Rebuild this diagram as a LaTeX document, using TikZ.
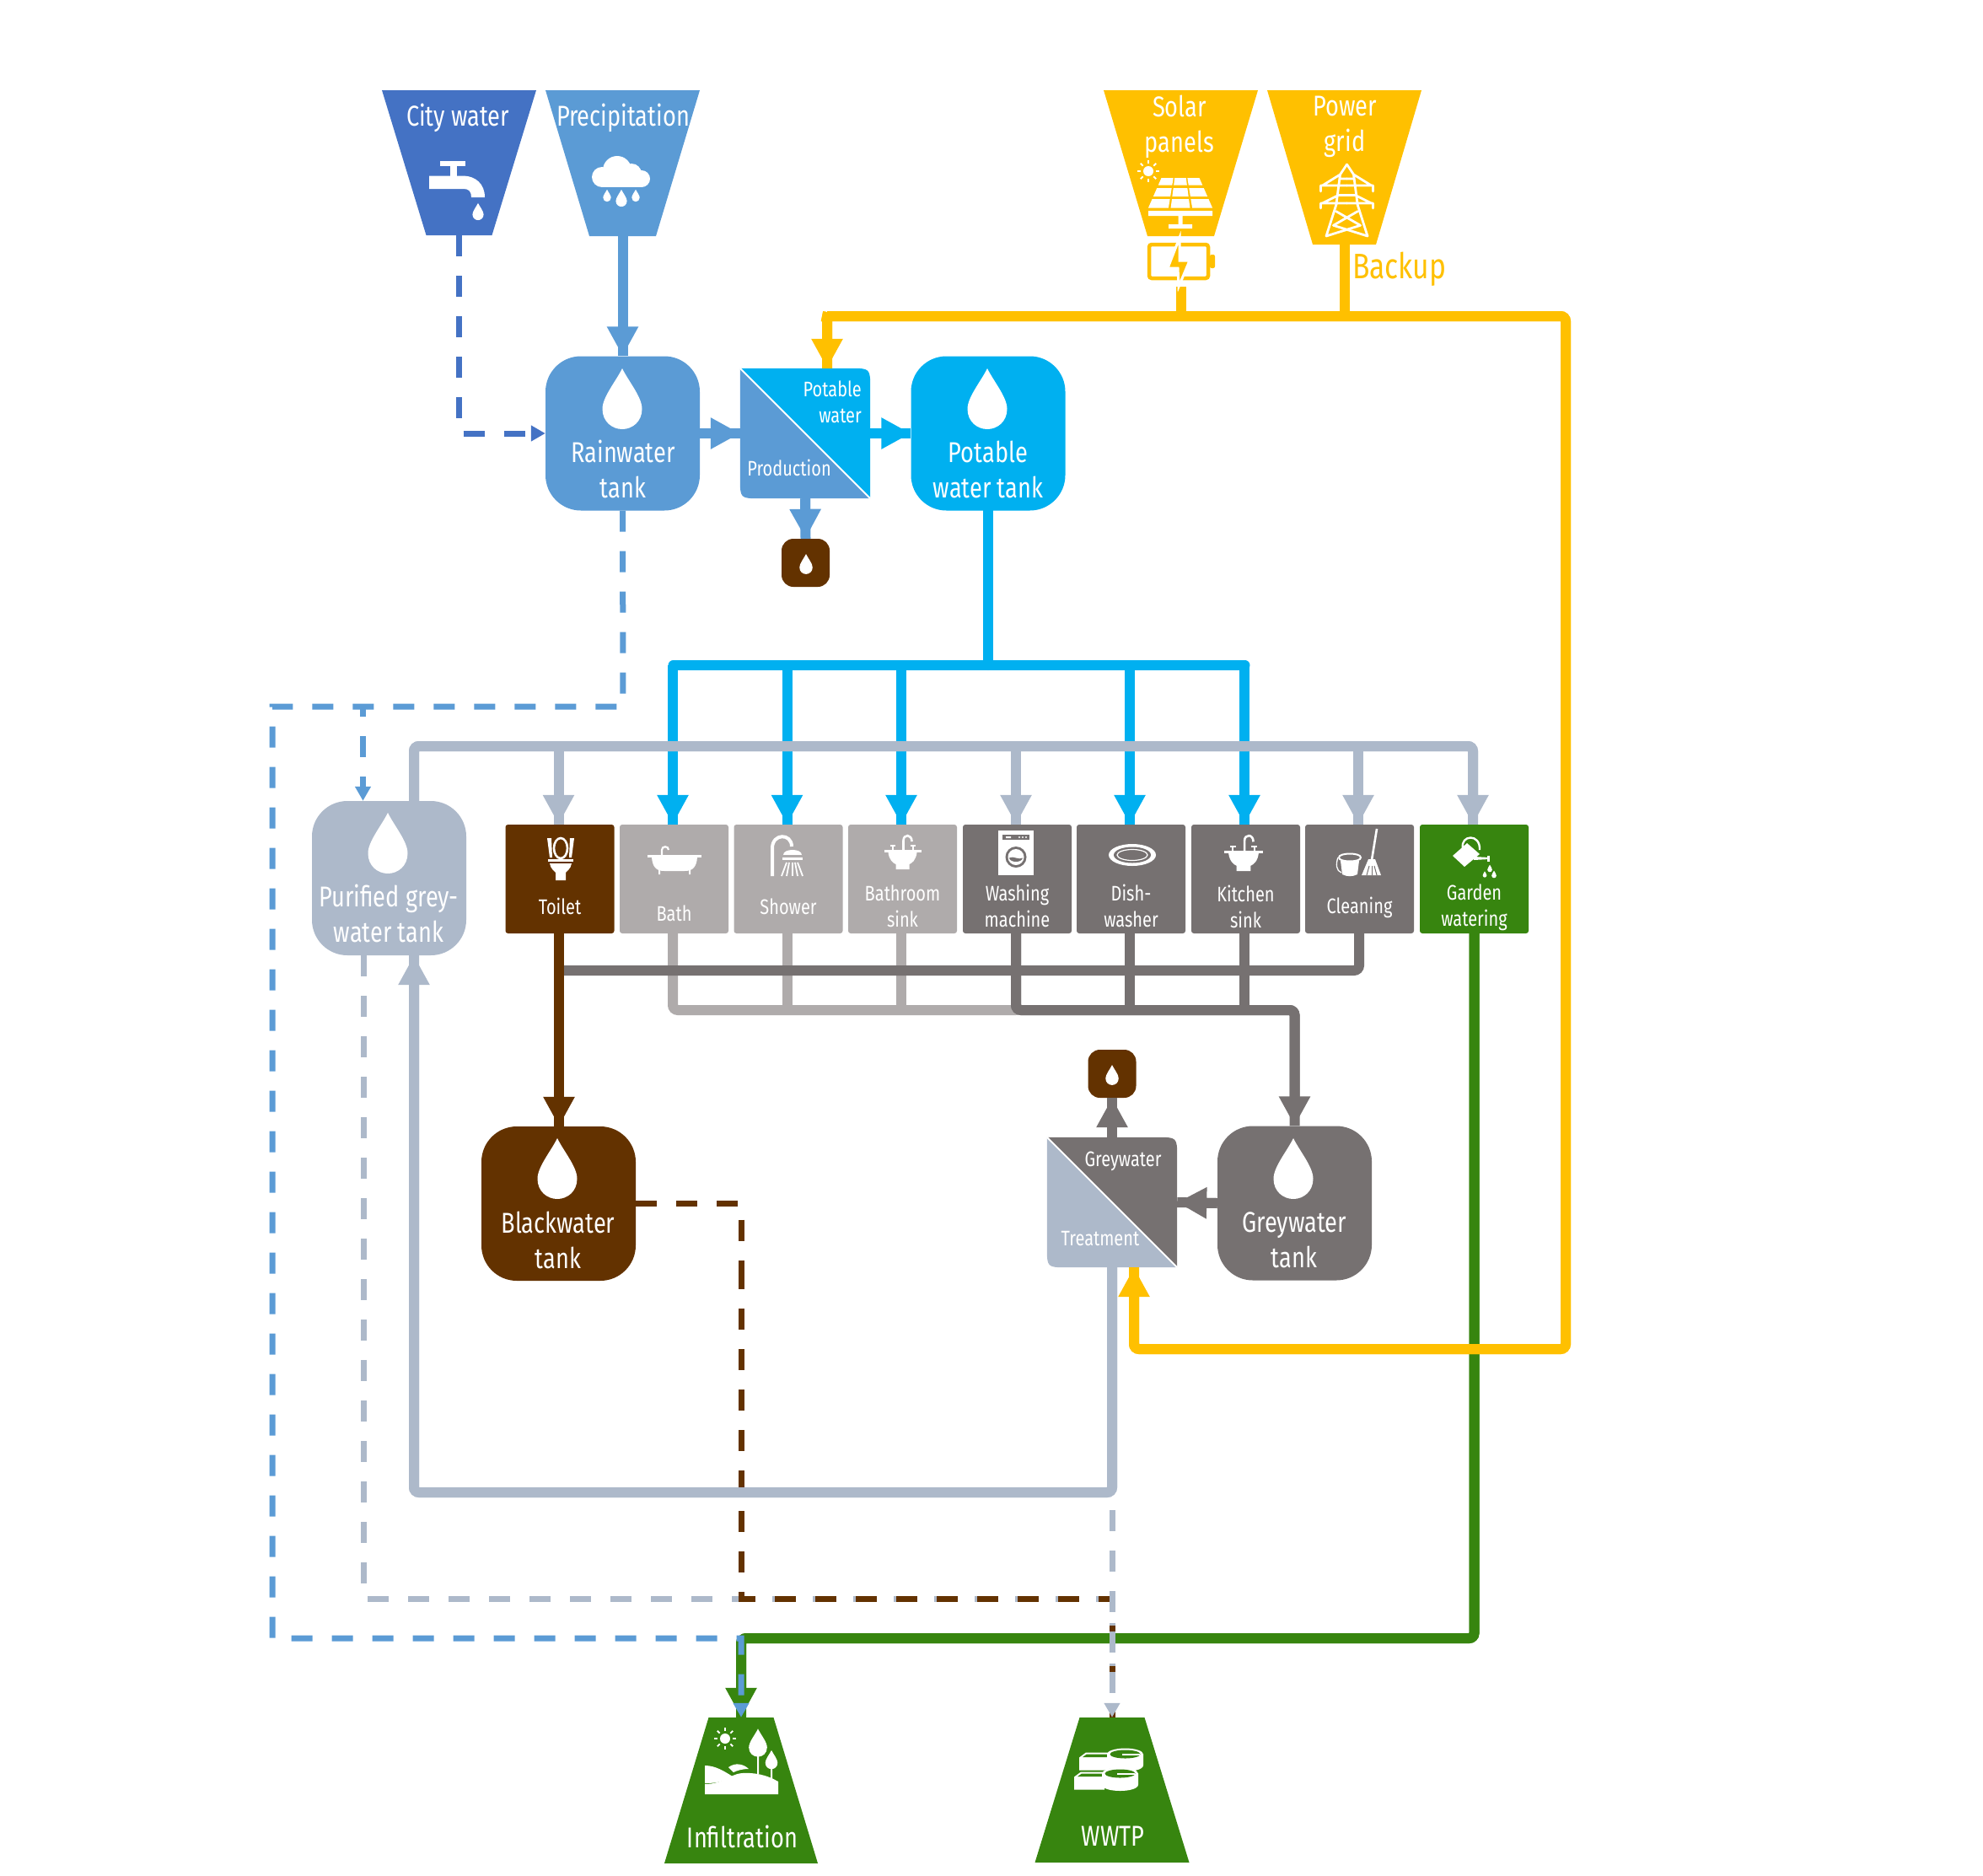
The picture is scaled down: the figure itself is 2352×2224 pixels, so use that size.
\documentclass[tikz,border=0pt]{standalone}
\usepackage{fontspec}
\setmainfont[FakeStretch=0.80]{Fira Sans}
\usetikzlibrary{arrows.meta,calc}

\definecolor{cityc}{HTML}{4472C4}
\definecolor{rainc}{HTML}{5B9BD5}
\definecolor{sunc}{HTML}{FFC000}
\definecolor{potc}{HTML}{00B0F0}
\definecolor{purc}{HTML}{ADB9CA}
\definecolor{darkc}{HTML}{767171}
\definecolor{lightc}{HTML}{AFABAB}
\definecolor{blackc}{HTML}{633200}
\definecolor{gardc}{HTML}{37850F}

\tikzset{
  tank/.style={rectangle, rounded corners=42pt, minimum size=183pt, inner sep=0pt},
  pit/.style={rectangle, rounded corners=14pt, minimum size=57pt, inner sep=0pt, fill=blackc},
  user/.style={rectangle, rounded corners=3pt, minimum width=129pt, minimum height=129pt, inner sep=0pt},
  big/.style={text=white, align=center, inner sep=0pt, font=\fontsize{34}{42}\selectfont},
  small/.style={text=white, align=center, inner sep=0pt, font=\fontsize{25}{31}\selectfont},
  pipe/.style={line width=12pt, rounded corners=6pt, line cap=round},
  flow/.style={line width=12pt, rounded corners=6pt, -{Triangle[length=35pt,width=35pt]}, postaction={draw,-}},
  dots/.style={line width=7pt, dash pattern=on 25pt off 23pt},
  dotflow/.style={dots, -{Triangle[length=17pt,width=18pt]}},
  drop/.pic={\fill[pic actions] (0,-36) .. controls (-8,-20) and (-23.5,-2) .. (-23.5,12)
    .. controls (-23.5,27) and (-12,36) .. (0,36) .. controls (12,36) and (23.5,27) .. (23.5,12)
    .. controls (23.5,-2) and (8,-20) .. (0,-36) -- cycle;},
  sun/.pic={\fill[white] (0,0) circle (6);
    \foreach \a in {0,45,...,315} \draw[white,line width=1.8pt] (\a:9) -- (\a:13);},
  tap/.pic={\fill[white] (-20,-33) rectangle (10,-27);
    \fill[white] (-8,-27) rectangle (0,-15);
    \fill[white] (-33,-15.5) -- (8,-15.5) .. controls (22,-15) and (33,-6) .. (33,10) -- (17,10)
    .. controls (17,3) and (14,0) .. (8,0) -- (-33,0) -- cycle;
    \pic[white,scale=.28] at (25,27) {drop};},
  cloud/.pic={\foreach \x/\y/\r in {-23/-5/12,-5/-13/17,12/-9/12,24/-3/10} \fill[white] (\x,\y) circle (\r);
    \fill[white] (-23,-8) rectangle (24,7);
    \pic[white,scale=.2] at (-17,17) {drop}; \pic[white,scale=.28] at (0,20) {drop}; \pic[white,scale=.2] at (17,17) {drop};},
  panel/.pic={\foreach \a/\b in {-30/-21.4,-18/-8,-5/5.5} \foreach \l/\r in {-1/-.37,-.3/.3,.37/1}
      \fill[white] ({\l*(35.6+.437*\a)},\a) -- ({\r*(35.6+.437*\a)},\a) -- ({\r*(35.6+.437*\b)},\b) -- ({\l*(35.6+.437*\b)},\b) -- cycle;
    \fill[white] (-38,9) rectangle (38,15) (-2.5,15) rectangle (2.5,25) (-14,25) rectangle (14,30);},
  pylon/.pic={\foreach \s in {-1,1} {\draw[white,line width=2.8pt,line join=round,line cap=round]
      (0,-43) -- (\s*8,-31) -- (\s*12.7,5) -- (\s*24.5,42) -- (\s*-16,29.3) -- (\s*12.7,12.7)
      (\s*8,-31) -- (\s*29,-18) (\s*31,-11) -- (\s*31,-18) -- (0,-18)
      (\s*10,-6.5) -- (\s*29,3) (\s*31,9) -- (\s*31,3) -- (0,3)
      (\s*7,-26) -- (0,-26) (\s*10,-6.5) -- (0,-6.5);}},
  loo/.pic={\fill[white] (-13,5) -- (13,5) .. controls (12,12) and (7,14) .. (6,16) -- (6,25) -- (-6,25) -- (-6,16) .. controls (-7,14) and (-12,12) .. (-13,5) -- cycle;
    \fill[white] (-15,0) rectangle (15,3);
    \draw[white,line width=2.6pt] (0,-13) ellipse (8 and 12);
    \fill[white] (-16,-25) -- (-11,-25) -- (-10,-2) -- (-13,-2) -- cycle;
    \fill[white] (16,-25) -- (11,-25) -- (10,-2) -- (13,-2) -- cycle;},
  tub/.pic={\fill[white] (-32,-6) rectangle (32,-3);
    \fill[white] (-27,-3) -- (27,-3) .. controls (26,8) and (22,13) .. (12,13) -- (-12,13) .. controls (-22,13) and (-26,8) .. (-27,-3) -- cycle;
    \fill[white] (-19,12) rectangle (-17,17) (17,12) rectangle (19,17);
    \draw[white,line width=2.2pt] (-15,-6) -- (-15,-12) .. controls (-15,-17) and (-7,-17) .. (-7,-12);},
  rose/.pic={\draw[white,line width=4pt] (-19,23) -- (-19,-10) .. controls (-19,-28) and (4,-28) .. (4,-12);
    \fill[white] (-6,-2) .. controls (-6,-10) and (16,-10) .. (16,-2) -- cycle;
    \fill[white] (-7,1) rectangle (17,4);
    \foreach \p/\q in {-2/-8,1/-2,5/5,8/11,11/17} \draw[white,line width=1.8pt] (\p,7) -- (\q,23);},
  basin/.pic={\fill[white] (-22,-3) rectangle (22,0);
    \fill[white] (-17,0) -- (17,0) .. controls (16,9) and (11,13) .. (8,14) -- (8,20) -- (-8,20) -- (-8,14) .. controls (-11,13) and (-16,9) .. (-17,0) -- cycle;
    \draw[white,line width=2.6pt] (1,-3) -- (1,-14) .. controls (1,-22) and (11,-22) .. (11,-13);
    \draw[white,line width=2pt] (-12,-3) -- (-12,-8) (-15,-8) -- (-9,-8) (12,-3) -- (12,-8) (9,-8) -- (15,-8);},
  washer/.pic={\fill[white] (-21,-26.5) rectangle (21,26.5);
    \fill[darkc] (-16,-21.5) rectangle (16,-15.5);
    \fill[darkc] (0,5) circle (12.5);
    \fill[white] (0,5) circle (9.5);
    \fill[darkc] (-8,6) .. controls (-3,3) and (3,9) .. (8,6) .. controls (7,12) and (-7,12) .. (-8,6) -- cycle;
    \fill[white] (-12,-19.5) rectangle (-6,-17.5) (4,-18.5) circle (1.2) (8,-18.5) circle (1.2) (12,-18.5) circle (1.2);},
  plate/.pic={\fill[white] (0,0) ellipse (28 and 13);
    \fill[darkc] (0,0) ellipse (22 and 9.5);
    \draw[white,line width=1.2pt] (0,0) ellipse (18 and 6.5);},
  mop/.pic={\draw[white,line width=2pt] (-24,6) .. controls (-24,0) and (2,0) .. (2,6) .. controls (2,12) and (-24,12) .. (-24,6);
    \fill[white] (-22,10) -- (0,10) -- (-2,26) .. controls (-8,29) and (-14,29) .. (-20,26) -- cycle;
    \draw[white,line width=1.3pt] (-25,6) .. controls (-28,14) and (-27,22) .. (-21,24);
    \draw[white,line width=2.6pt] (21,-28) -- (15,9);
    \fill[white] (11,8) -- (19,8) -- (26,27) -- (3,27) -- cycle;
    \foreach \x in {9,15,21} \draw[darkc,line width=1pt] (\x,27) -- (\x+.5*15-.5*\x,16);},
  can/.pic={\fill[white] (-25,-1) -- (-8,-16) -- (7,-3) -- (-11,12) -- cycle;
    \fill[white] (0,4) -- (18,3) -- (18,1) -- (0,0) -- cycle;
    \fill[white] (16,-1) rectangle (19,6);
    \draw[white,line width=2.4pt] (-13,-10) .. controls (-16,-26) and (8,-28) .. (7,-8);
    \pic[white,scale=.12] at (19,14) {drop}; \pic[white,scale=.1] at (13,21) {drop}; \pic[white,scale=.12] at (24,21) {drop};},
  field/.pic={\fill[white] (-44,27) .. controls (-22,27) and (-14,15) .. (0,14) .. controls (14,13) and (30,16) .. (43,24) -- (43,39) -- (-44,39) -- cycle;
    \fill[white] (-44,5) .. controls (-32,5) and (-22,11) .. (-11,18) .. controls (-22,24) and (-30,26) .. (-44,26) -- cycle;
    \fill[white] (-16,7) .. controls (-8,1) and (2,3) .. (8,9) .. controls (0,9) and (-6,11) .. (-10,13) -- cycle;
    \fill[white] (18,-10) rectangle (20,15) (34,0) rectangle (36,21);
    \pic[white,scale=.46] at (19,-22) {drop}; \pic[white,scale=.31] at (35,-2) {drop};},
  works/.pic={\fill[white] (-36,-5) -- (-28,-11) -- (0,-11) -- (0,10) -- (-36,10) -- cycle;
    \fill[gardc] (-32,-5.5) -- (-27,-9) -- (-3,-9) -- (-3,-5.5) -- cycle;
    \fill[white] (-3,-9) -- (-3,4) .. controls (-3,14) and (40,14) .. (40,4) -- (40,-9) -- cycle;
    \fill[white] (18.5,-9) ellipse (21.5 and 7);
    \fill[gardc] (18.5,-9) ellipse (18 and 5);
    \fill[white] (15,-10) rectangle (36,-8);},
}

% name, centre x, centre y, half top, half bottom, half height, colour
\newcommand{\funnel}[7]{%
  \fill[#7] ({#2-#4},{#3-#6}) -- ({#2+#4},{#3-#6}) -- ({#2+#5},{#3+#6}) -- ({#2-#5},{#3+#6}) -- cycle;
  \node[minimum width=2*#4 pt, minimum height=2*#6 pt, inner sep=0pt] (#1) at (#2,#3) {};
}
\newcommand{\splitbox}[3]{%
  \fill[#3] (#1.north west) -- ($(#1.south west)+(0,-24)$) .. controls (#1.south west) .. ($(#1.south west)+(24,0)$) -- (#1.south east) -- cycle;
  \fill[#2] (#1.north west) -- ($(#1.north east)+(-24,0)$) .. controls (#1.north east) .. ($(#1.north east)+(0,24)$) -- (#1.south east) -- cycle;
  \draw[white,line width=2pt] (#1.north west) -- (#1.south east);
}

\begin{document}
\begin{tikzpicture}[x=1pt,y=-1pt]
  \useasboundingbox (0,0) rectangle (2352,2224);

  % sources and sinks
  \funnel{city}{544.5}{193}{91.5}{39}{86}{cityc}
  \funnel{prec}{738.5}{193.5}{91.5}{39.5}{86.5}{rainc}
  \funnel{sol}{1400.5}{193.5}{91.5}{39.5}{86.5}{sunc}
  \funnel{grid}{1594.5}{198.5}{91.5}{37.5}{91.5}{sunc}
  \funnel{inf}{879}{2123.5}{38.5}{91}{86.5}{gardc}
  \funnel{wwtp}{1319}{2123}{38.5}{91.5}{86}{gardc}
  \node[big] (cityt) at (543,139.5) {City water};
  \node[big] (prect) at (739,139.5) {Precipitation};
  \node[big] (solt) at (1399,150) {Solar\\panels};
  \node[big] (gridt) at (1595,150.5) {Power\\grid};
  \node[big] (inft) at (880.5,2178) {Infiltration};
  \node[big] (wwtpt) at (1320,2178) {WWTP};
  \node[big, text=sunc, anchor=west, font=\fontsize{42}{42}\selectfont] (backup) at (1604,319) {Backup};

  % tanks
  \node[tank, fill=rainc] (rain) at (738.5,514) {};
  \node[tank, fill=potc] (pot) at (1172,514) {};
  \node[tank, fill=purc] (puri) at (461.5,1041.5) {};
  \node[tank, fill=blackc] (blk) at (662.5,1427.5) {};
  \node[tank, fill=darkc] (gry) at (1535.5,1427) {};
  \node[big] (raint) at (739,556.5) {Rainwater\\tank};
  \node[big] (pott) at (1172,556.5) {Potable\\water tank};
  \node[big] (purit) at (461,1083.5) {Purified grey-\\water tank};
  \node[big] (blkt) at (662,1470.5) {Blackwater\\tank};
  \node[big] (gryt) at (1535,1470.5) {Greywater\\tank};
  \foreach \x/\y in {738/473,1171/473,460/1000,661/1386,1534/1386}
    \pic[white] at (\x,\y) {drop};

  % treatment units
  \node[minimum size=154pt, inner sep=0pt] (prod) at (955,514) {};
  \node[minimum size=154pt, inner sep=0pt] (treat) at (1319,1426) {};
  \splitbox{prod}{potc}{rainc}
  \splitbox{treat}{darkc}{purc}
  \node[small, align=right, anchor=east] (prodt1) at (1022,477) {Potable\\water};
  \node[small] (prodt2) at (936,555) {Production};
  \node[small] (treatt1) at (1332,1377) {Greywater};
  \node[small] (treatt2) at (1305,1469) {Treatment};
  \node[pit] (sl1) at (955.5,667.5) {};
  \node[pit] (sl2) at (1319,1273.5) {};
  \pic[white,scale=.33] at (956,669) {drop};
  \pic[white,scale=.33] at (1319,1275) {drop};

  % water uses
  \foreach \i/\x/\c/\t/\y in {
    1/664/blackc/Toilet/1075,
    2/799.5/lightc/Bath/1083,
    3/935/lightc/Shower/1075,
    4/1070.5/lightc/{Bathroom\\sink}/1074.5,
    5/1206.5/darkc/{Washing\\machine}/1074.5,
    6/1341.5/darkc/{Dish-\\washer}/1074.5,
    7/1477.5/darkc/{Kitchen\\sink}/1075,
    8/1612.5/darkc/Cleaning/1076,
    9/1748.5/gardc/{Garden\\watering}/1076}{
    \node[user, fill=\c] (u\i) at (\x,1042.5) {};
    \node[small] (t\i) at (\x,\y) {\t};
  }

  % icons
  \pic at (542,224) {tap};
  \pic at (737,215) {cloud};
  \pic at (1362,203) {sun};
  \pic at (1400,241) {panel};
  \pic at (1597.5,238) {pylon};
  \pic at (665,1019) {loo};
  \pic at (800,1020) {tub};
  \pic at (935,1016) {rose};
  \pic at (1070.5,1011) {basin};
  \pic at (1205,1011.5) {washer};
  \pic at (1343,1014) {plate};
  \pic[scale=1.05] at (1475,1012) {basin};
  \pic at (1612,1011) {mop};
  \pic at (1748,1016) {can};
  \pic at (860,2062) {sun};
  \pic at (880,2089) {field};
  \pic at (1316,2089.5) {works};
  \pic at (1310,2112.5) {works};

  % named points of the pipes
  \coordinate (ybl) at (981,375);
  \coordinate (ybr) at (1857,375);
  \coordinate (ybd) at (1857,1600);
  \coordinate (pb) at (1172,789);
  \coordinate (gb) at (880,885);
  \coordinate (db) at (663,1151);
  \coordinate (lb) at (1205,1198);
  \coordinate (rc1) at (739,838);
  \coordinate (rc2) at (323,838);
  \coordinate (rc3) at (323,1943);
  \coordinate (rc4) at (430.5,838);
  \coordinate (cor) at (879,1943);
  \coordinate (gy) at (1319,1896);
  \coordinate (bk1) at (879,1427.5);
  \coordinate (bk2) at (879,1519);
  \coordinate (bk3) at (879,1504);
  \coordinate (bk4) at (879,1896);
  \coordinate (pp) at (431,1896);
  \coordinate (tl) at (491,1770);

  % energy
  \draw[line width=4.5pt, sunc, rounded corners=3pt] (1363,290) rectangle (1433,330);
  \fill[sunc, rounded corners=2pt] (1435,302) rectangle (1441,318);
  \draw[pipe, sunc, line cap=butt, shorten <=10pt] (ybl -| 1401,0) ++(0,-45) -- (ybl -| 1401,0);
  \fill[sunc, draw=white, line width=3pt] (1399,282) -- (1385,318) -- (1397,318) -- (1398,340) -- (1411,309) -- (1399,309) -- cycle;
  \draw[pipe, sunc, line cap=butt] (grid.south) -- (grid.south |- ybl);

  % dashed flows under the others
  \draw[dots, purc] (puri.south -| pp) -- (pp) -- (gy) -- (gy |- wwtp.north);
  \draw[dots, blackc] (blk.east) -- (bk1) -- (bk2);
  \draw[dots, blackc] (bk3) -- (bk4) -- (gy) -- (gy |- wwtp.north);

  % water lines
  \draw[flow, rainc] (prec.south) -- (rain.north);
  \draw[flow, rainc] (rain.east) -- (prod.west);
  \draw[flow, potc] (prod.east) -- (pot.west);
  \draw[flow, rainc] (prod.south) -- (sl1.north);
  \draw[dotflow, cityc] (city.south) |- (rain.west);
  \draw[pipe, potc] (pot.south) -- (pb);
  \draw[pipe, potc] ([xshift=-1pt]u2.north |- pb) -- ([xshift=-1pt]u7.north |- pb);
  \foreach \i in {2,3,4,6,7}
    \draw[flow, potc] ([xshift=-1.5pt]u\i.north |- pb) -- ([xshift=-1.5pt]u\i.north);
  \draw[flow, purc] ([xshift=29.5pt]puri.north) |- ([xshift=-1.5pt]u9.north |- gb) -- ([xshift=-1.5pt]u9.north);
  \foreach \i in {1,5,8}
    \draw[flow, purc] ([xshift=-1.5pt]u\i.north |- gb) -- ([xshift=-1.5pt]u\i.north);
  \draw[pipe, lightc] (u2.south -| 798,0) |- (lb);
  \foreach \i in {3,4}
    \draw[pipe, lightc, line cap=butt] ([xshift=-1.5pt]u\i.south) -- ([xshift=-1.5pt]u\i.south |- lb);
  \draw[pipe, darkc] (u8.south -| 1612,0) |- (db);
  \foreach \i in {6,7}
    \draw[pipe, darkc, line cap=butt] ([xshift=-1.5pt]u\i.south) -- ([xshift=-1.5pt]u\i.south |- lb);
  \draw[flow, darkc] ([xshift=-1.5pt]u5.south) |- (gry.north |- lb) -- (gry.north);
  \draw[flow, blackc] (u1.south -| db) -- (blk.north -| db);
  \draw[flow, darkc] (gry.west) -- (treat.east);
  \draw[flow, darkc] (treat.north) -- (sl2.south);
  \draw[flow, purc] (treat.south) |- (tl) -- (puri.south -| tl);
  \draw[flow, gardc] (u9.south) |- (cor) -- (inf.north);
  \draw[flow, sunc] ([xshift=-6pt]ybl) -- (ybl) -- (ybl |- prod.north);
  \draw[flow, sunc] (ybl) -- (ybr) -- (ybd) -| ([xshift=26pt]treat.south);

  % dashed flows on top
  \draw[dotflow, rainc] (rain.south) -- (rc1) -- (rc2) -- (rc3) -- (cor) -- (inf.north);
  \draw[dotflow, rainc, dash phase=13pt] (rc4) -- (rc4 |- puri.north);
  \draw[dotflow, purc] (treat.south) -- (wwtp.north);
\end{tikzpicture}
\end{document}
